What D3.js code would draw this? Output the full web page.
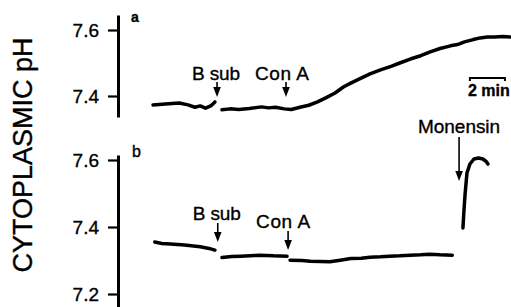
<!DOCTYPE html>
<html>
<head>
<meta charset="utf-8">
<script src="https://cdn.jsdelivr.net/npm/d3@7"></script>
<style>
  html, body { margin: 0; padding: 0; background: #fff; }
  text { font-family: "Liberation Sans", Arial, Helvetica, sans-serif; fill: #000; stroke: #000; stroke-width: 0.35px; }
</style>
</head>
<body>
<div id="root"></div>
<script>
// time in minutes, pH values
const traceA1 = [[0, 7.373], [0.7, 7.376], [1.5, 7.379], [2.0, 7.373], [2.4, 7.366], [2.7, 7.370],
  [3.0, 7.363], [3.3, 7.370], [3.54, 7.382]];
const traceA2 = [[3.94, 7.358], [4.4, 7.361], [4.9, 7.359], [5.5, 7.362], [6.2, 7.367], [6.6, 7.364],
  [7.0, 7.366], [7.5, 7.361], [7.9, 7.359], [8.4, 7.366], [8.9, 7.372], [9.4, 7.382], [9.9, 7.395],
  [10.4, 7.409], [10.9, 7.428], [11.3, 7.439], [11.8, 7.452], [12.4, 7.467], [13.0, 7.479],
  [13.6, 7.490], [14.1, 7.500], [14.7, 7.512], [15.3, 7.522], [15.8, 7.533], [16.4, 7.544],
  [17.0, 7.552], [17.4, 7.556], [17.8, 7.564], [18.3, 7.571], [18.7, 7.576], [19.1, 7.579],
  [19.5, 7.579], [20.0, 7.580], [20.4, 7.579]];

const traceB1 = [[0.1, 7.355], [0.5, 7.351], [1.0, 7.349], [1.8, 7.346], [2.7, 7.341], [3.2, 7.336],
  [3.54, 7.331]];
const traceB2 = [[3.94, 7.309], [4.5, 7.312], [5.0, 7.313], [6.1, 7.316], [6.9, 7.314], [7.66, 7.313]];
const traceB3 = [[7.83, 7.301], [8.5, 7.300], [9.0, 7.298], [10.1, 7.296], [10.7, 7.301], [11.3, 7.306],
  [11.9, 7.307], [12.4, 7.310], [13.0, 7.311], [13.5, 7.313], [14.1, 7.314], [14.7, 7.316],
  [15.3, 7.317], [15.8, 7.319], [16.4, 7.317], [17.1, 7.316]];
const traceB4 = [[17.71, 7.397], [17.77, 7.45], [17.83, 7.496], [17.94, 7.561], [18.11, 7.588],
  [18.34, 7.603], [18.6, 7.606], [18.85, 7.603], [19.05, 7.595], [19.14, 7.588]];

const eventsA = [{ label: "B sub", t: 3.66 }, { label: "Con A", t: 7.6 }];
const eventsB = [{ label: "B sub", t: 3.7 }, { label: "Con A", t: 7.72 }, { label: "Monensin", t: 17.49 }];

const ticksA = [7.4, 7.6];
const ticksB = [7.2, 7.4, 7.6];
const scaleBarMin = 2;

const width = 511;
const height = 307;

const svg = d3
  .select("#root")
  .append("svg")
  .attr("width", width)
  .attr("height", height)
  .attr("viewBox", [0, 0, width, height]);

const x = d3.scaleLinear().domain([0, 20]).range([153, 503]);

// each panel: scale runs over the whole drawn axis line
const yA = d3.scaleLinear().domain([7.4 - 21 / 330, 7.6 + 15 / 330]).range([117, 15]);
const yB = d3.scaleLinear().domain([7.2 - 13 / 335, 7.6 + 5 / 335]).range([307, 155]);

function drawAxis(y, ticks) {
  const g = svg
    .append("g")
    .attr("transform", "translate(118,0)")
    .call(
      d3.axisLeft(y)
        .tickValues(ticks)
        .tickFormat(d3.format(".1f"))
        .tickSize(10)
        .tickSizeOuter(0)
        .tickPadding(9)
    );
  g.select(".domain").attr("stroke", "#000").attr("stroke-width", 3);
  g.selectAll(".tick line").attr("stroke", "#000").attr("stroke-width", 2.2);
  g.selectAll(".tick text")
    .attr("font-size", 19)
    .attr("font-family", "'Liberation Sans', Arial, sans-serif")
    .attr("fill", "#000");
}

drawAxis(yA, ticksA);
drawAxis(yB, ticksB);

function drawTrace(y, seg) {
  const line = d3.line()
    .x((d) => x(d[0]))
    .y((d) => y(d[1]))
    .curve(d3.curveLinear);
  svg
    .append("path")
    .attr("d", line(seg))
    .attr("fill", "none")
    .attr("stroke", "#000")
    .attr("stroke-width", 3.5)
    .attr("stroke-linejoin", "round")
    .attr("stroke-linecap", "round");
}

[traceA1, traceA2].forEach((s) => drawTrace(yA, s));
[traceB1, traceB2, traceB3, traceB4].forEach((s) => drawTrace(yB, s));

// event arrows: tip a few px above the trace
function drawEvent(ev, tipY, topY, textY, dx) {
  const ax = x(ev.t);
  svg.append("line")
    .attr("x1", ax).attr("x2", ax)
    .attr("y1", topY).attr("y2", tipY - 6)
    .attr("stroke", "#000")
    .attr("stroke-width", 1.6);
  svg.append("path")
    .attr("d", `M${ax - 3.8},${tipY - 10}L${ax + 3.8},${tipY - 10}L${ax},${tipY}Z`)
    .attr("fill", "#000");
  svg.append("text")
    .attr("x", ax + dx)
    .attr("y", textY)
    .attr("text-anchor", "middle")
    .attr("font-size", 19)
    .attr("textLength", ev.label === "Monensin" ? 82 : ev.label === "B sub" ? 48 : 54)
    .text(ev.label);
}

drawEvent(eventsA[0], 97, 82, 80, -1);
drawEvent(eventsA[1], 97, 82, 80, -4);
drawEvent(eventsB[0], 242, 223, 220, -1);
drawEvent(eventsB[1], 250, 231, 228, -5);
drawEvent(eventsB[2], 181, 137, 133, 0);

// panel letters
svg.append("text").attr("x", 131).attr("y", 22).attr("font-size", 14)
  .attr("font-weight", "bold").text("a");
svg.append("text").attr("x", 132).attr("y", 157).attr("font-size", 16)
  .text("b");

// time scale bar
const x0 = x(18.11);
const x1 = x(18.11 + scaleBarMin);
svg.append("path")
  .attr("d", `M${x0},81V78H${x1}V81`)
  .attr("fill", "none")
  .attr("stroke", "#000")
  .attr("stroke-width", 2);
svg.append("text")
  .attr("x", x0 - 2)
  .attr("y", 96)
  .attr("font-size", 16)
  .attr("font-weight", "bold")
  .text(`${scaleBarMin} min`);

// y label
svg.append("text")
  .attr("transform", "translate(32,155) rotate(-90)")
  .attr("text-anchor", "middle")
  .attr("font-size", 27)
  .text("CYTOPLASMIC pH");
</script>
</body>
</html>
